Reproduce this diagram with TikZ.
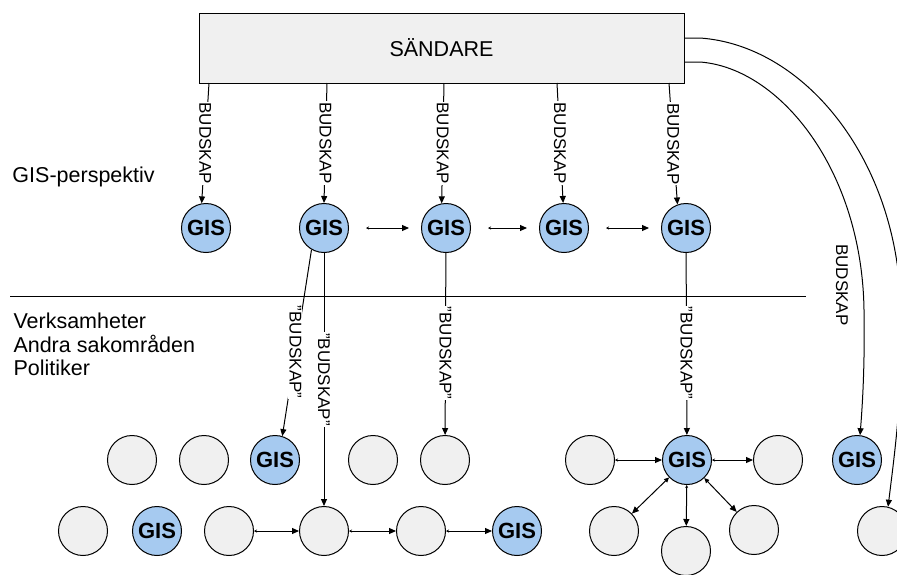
\documentclass[tikz,border=0pt]{standalone}
\usepackage{fontspec}
\setmainfont{Liberation Sans}
\usetikzlibrary{arrows.meta}
\definecolor{gisblue}{HTML}{A6CAF0}
\definecolor{lgray}{HTML}{F0F0F0}
\begin{document}
\begin{tikzpicture}[x=1pt,y=-1pt,line width=1pt,
  every node/.style={font=\fontsize{21.5}{25}\selectfont},
  gis/.style={circle,draw,line width=1pt,fill=gisblue,minimum size=49pt,inner sep=0pt,font=\fontsize{22}{24}\selectfont\bfseries},
  nod/.style={circle,draw,line width=1pt,fill=lgray,minimum size=49pt,inner sep=0pt},
  msg/.style={-{Triangle[length=7pt,width=6pt]}},
  bi/.style={{Stealth[length=3pt,width=3pt]}-{Triangle[length=7pt,width=6pt]}},
  bd/.style={{Triangle[length=5pt,width=4.5pt]}-{Triangle[length=7pt,width=6pt]}},
  lbl/.style={rotate=-90,fill=white,inner sep=1pt,font=\fontsize{17}{20}\selectfont},
  txt/.style={anchor=base west,inner sep=0pt},
]
\useasboundingbox (0,0) rectangle (897,574);
\clip (0,0) rectangle (897,574);

% sender
\node[draw,fill=lgray,minimum width=485pt,minimum height=70pt,inner sep=0pt] (snd) at (441.5,48) {SÄNDARE};

% side texts
\node[txt] (gp) at (12,182) {GIS-perspektiv};
\node[txt] (v1) at (13,328) {Verksamheter};
\node[txt] (v2) at (13,352) {Andra sakområden};
\node[txt] (v3) at (13,375) {Politiker};

% top GIS row
\node[gis] (t1) at (206,228) {GIS};
\node[gis] (t2) at (324,228) {GIS};
\node[gis] (t3) at (446,228) {GIS};
\node[gis] (t4) at (564,228) {GIS};
\node[gis] (t5) at (686,228) {GIS};

\coordinate (s1) at (209,83);
\coordinate (s2) at (327,83);
\coordinate (s3) at (444,83);
\coordinate (s4) at (557,83);
\coordinate (s5) at (669,83);

\draw[msg] (s1) -- node[lbl]{BUDSKAP} (t1.100);
\draw[msg] (s2) -- node[lbl]{BUDSKAP} (t2.90);
\draw[msg] (s3) -- node[lbl]{BUDSKAP} (t3.100);
\draw[msg] (s4) -- node[lbl]{BUDSKAP} (t4.92);
\draw[msg] (s5) -- node[lbl]{BUDSKAP} (t5.110);

\draw[bi,shorten <=17pt,shorten >=12pt] (t2) -- (t3);
\draw[bi,shorten <=17pt,shorten >=12pt] (t3) -- (t4);
\draw[bi,shorten <=17pt,shorten >=12pt] (t4) -- (t5);

% divider
\coordinate (dl) at (10,296);
\coordinate (dr) at (806,296);
\draw (dl) -- (dr);

% lower rows
\node[nod] (a1) at (132,460) {};
\node[nod] (a2) at (204,460) {};
\node[gis] (a3) at (275,460) {GIS};
\node[nod] (a4) at (373,460) {};
\node[nod] (a5) at (445,460) {};

\node[nod] (b1) at (83,531) {};
\node[gis] (b2) at (157,531) {GIS};
\node[nod] (b3) at (229,531) {};
\node[nod] (b4) at (324,531) {};
\node[nod] (b5) at (421,531) {};
\node[gis] (b6) at (517,531) {GIS};

\draw[bi] (b3) -- (b4);
\draw[bi] (b4) -- (b5);
\draw[bi] (b5) -- (b6);

% cluster
\node[gis] (g) at (687,460) {GIS};
\node[nod] (cl) at (590,460) {};
\node[nod] (cr) at (778,460) {};
\node[nod] (cll) at (614,531) {};
\node[nod] (cb) at (686,551) {};
\node[nod] (clr) at (754,530) {};

\draw[bi] (cl) -- (g);
\draw[bi] (g) -- (cr);
\draw[bd] (g) -- (cll);
\draw[bi] (g) -- (cb);
\draw[bd] (g) -- (clr);

% far right
\node[gis] (fg) at (857,460) {GIS};
\node[nod] (fb) at (882,531) {};

% quoted messages
\draw[msg] (t2.240) -- node[lbl,pos=0.55]{"BUDSKAP"} (a3.73);
\draw[msg] (t2) -- node[lbl]{"BUDSKAP"} (b4);
\draw[msg] (t3) -- node[lbl,pos=0.55]{"BUDSKAP"} (a5);
\draw[msg] (t5) -- node[lbl,pos=0.55]{"BUDSKAP"} (g);

% curves from sender
\coordinate (o1) at (684,38);
\coordinate (i1) at (684,62);
\draw[msg] (o1) -- (700,38) .. controls (800,45) and (890,150) .. (900,290)
  .. controls (905,380) and (895,450) .. (fb.76);
\draw[msg] (i1) -- (700,62) .. controls (780,68) and (862,170) .. (864,310)
  .. controls (865,370) and (862,410) .. (fg.83);
\node[rotate=-90,inner sep=0pt,font=\fontsize{17}{20}\selectfont] (bl) at (842,285) {BUDSKAP};
\end{tikzpicture}
\end{document}
